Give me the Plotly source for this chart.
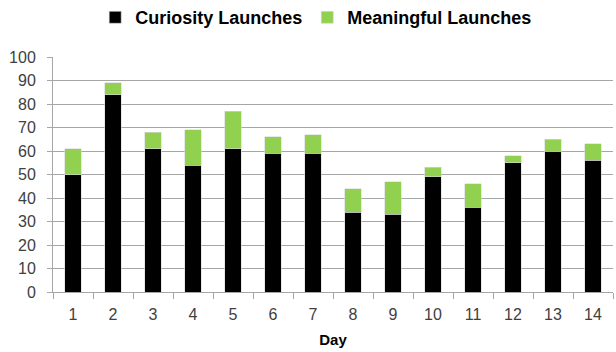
import plotly.graph_objects as go

days = [str(d) for d in range(1, 15)]
curiosity = [50, 84, 61, 54, 61, 59, 59, 34, 33, 49, 36, 55, 60, 56]
meaningful = [11, 5, 7, 15, 16, 7, 8, 10, 14, 4, 10, 3, 5, 7]
y_ticks = list(range(0, 101, 10))

FONT = "Liberation Sans, Arial, sans-serif"

fig = go.Figure()
fig.add_trace(go.Bar(
    x=days, y=curiosity, name="Curiosity Launches",
    marker=dict(color="#000000", line=dict(color="#d9d9d9", width=0.6)),
))
fig.add_trace(go.Bar(
    x=days, y=meaningful, name="Meaningful Launches",
    marker=dict(color="#92d050", line=dict(color="#d9d9d9", width=0.6)),
))

fig.update_layout(
    barmode="stack",
    bargap=0.58,
    width=616, height=352,
    margin=dict(l=53, r=3, t=57, b=60),
    plot_bgcolor="white",
    paper_bgcolor="white",
    font=dict(family=FONT, size=15, color="#404040"),
    legend=dict(
        orientation="h",
        x=0.47, xanchor="center",
        yref="container", y=0.95, yanchor="middle",
        font=dict(family=FONT, size=18, color="#000000", weight="bold"),
        itemwidth=30,
        traceorder="normal",
    ),
    showlegend=True,
)

fig.update_xaxes(
    title=dict(text="Day", font=dict(family=FONT, size=15, color="#000000", weight="bold"), standoff=12),
    showline=True, linecolor="#a6a6a6", linewidth=1,
    ticks="outside", tickson="boundaries", ticklen=6, tickcolor="#a6a6a6",
    ticklabelstandoff=8,
    showgrid=False,
    tickfont=dict(size=16, color="#404040"),
)
fig.update_yaxes(
    range=[0, 100],
    tickvals=y_ticks,
    showline=True, linecolor="#a6a6a6", linewidth=1,
    ticks="outside", ticklen=5, tickcolor="#a6a6a6",
    ticklabelstandoff=8,
    showgrid=True, gridcolor="#a6a6a6", gridwidth=1,
    zeroline=False,
    tickfont=dict(size=16, color="#404040"),
)

fig.write_html("out.html")
